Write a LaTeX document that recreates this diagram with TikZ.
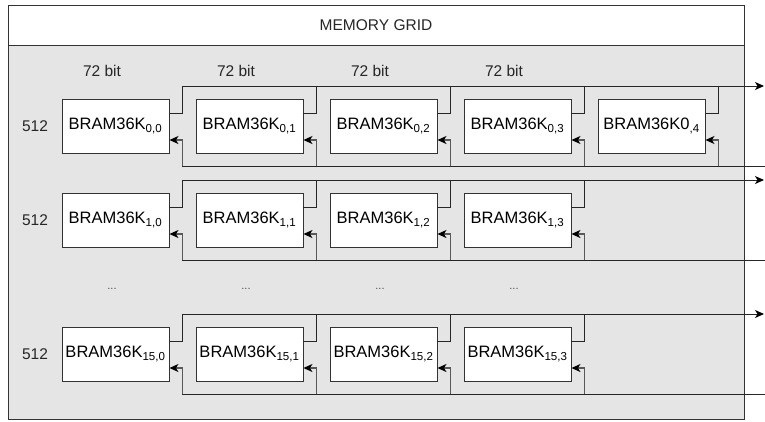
\documentclass[tikz,border=0pt]{standalone}
\usepackage{fontspec}
\setmainfont{Liberation Sans}
\usetikzlibrary{arrows.meta}

\tikzset{
  bram/.style={draw=black!80, fill=white, line width=0.9pt, minimum width=107pt,
    minimum height=54pt, inner sep=0pt, font=\fontsize{16.5}{19}\selectfont},
  lbl/.style={font=\fontsize{15.5}{18}\selectfont, text=black!85},
  bus/.style={draw=black!85, line width=0.9pt},
  ret/.style={draw=black!65, line width=1.2pt, -{Stealth[length=9pt,width=8pt,inset=2.5pt,black]}},
  busout/.style={bus, -{Stealth[length=9pt,width=8pt,inset=2.5pt,black]}},
}

\begin{document}
\begin{tikzpicture}[x=1pt,y=-1pt]
        \useasboundingbox (0,0) rectangle (765,421);

        % frame with header
        \draw[draw=black!80, line width=0.9pt, fill=gray!20] (8,45) rectangle (744,419);
        \draw[draw=black!80, line width=0.9pt, fill=white] (8,5) rectangle (744,45);
        \node[lbl] (title) at (376,25) {MEMORY GRID};

        % width labels
        \foreach \c in {0,...,3}
          \node[lbl] (w\c) at (102+134*\c,71) {72 bit};

        % rows of blocks
        \foreach \r/\y/\n in {0/126/3, 1/220/3, 15/354/3} {
          \node[lbl] (d\r) at (35,\y) {512};
          \foreach \c in {0,...,\n}
            \node[bram] (b\r-\c) at (115.5+134*\c,\y) {BRAM36K\textsubscript{\r,\c}};
        }
        \node[bram] (b0-4) at (651.5,126) {BRAM36K0\textsubscript{,4}};

        % dots between rows
        \foreach \c in {0,...,3}
          \node[font=\fontsize{11}{12}\selectfont, text=black!70] (dots\c) at (112+134*\c,289) {...};

        % busses
        \foreach \r/\y/\n in {0/126/4, 1/220/3, 15/354/3} {
          \coordinate (out\r) at (764,\y-40);
          \coordinate (in\r) at (765,\y+40);
          \draw[busout] ([xshift=13pt,yshift=40pt]b\r-0.east) -- (out\r);
          \draw[bus] ([xshift=13pt,yshift=-40pt]b\r-0.east) -- (in\r);
          \foreach \c in {0,...,\n} {
            \draw[bus] ([yshift=13pt]b\r-\c.east) -| ([xshift=13pt,yshift=40pt]b\r-\c.east);
            \draw[ret] ([xshift=13pt,yshift=-40pt]b\r-\c.east) |- ([yshift=-14pt]b\r-\c.east);
          }
        }
\end{tikzpicture}
\end{document}
